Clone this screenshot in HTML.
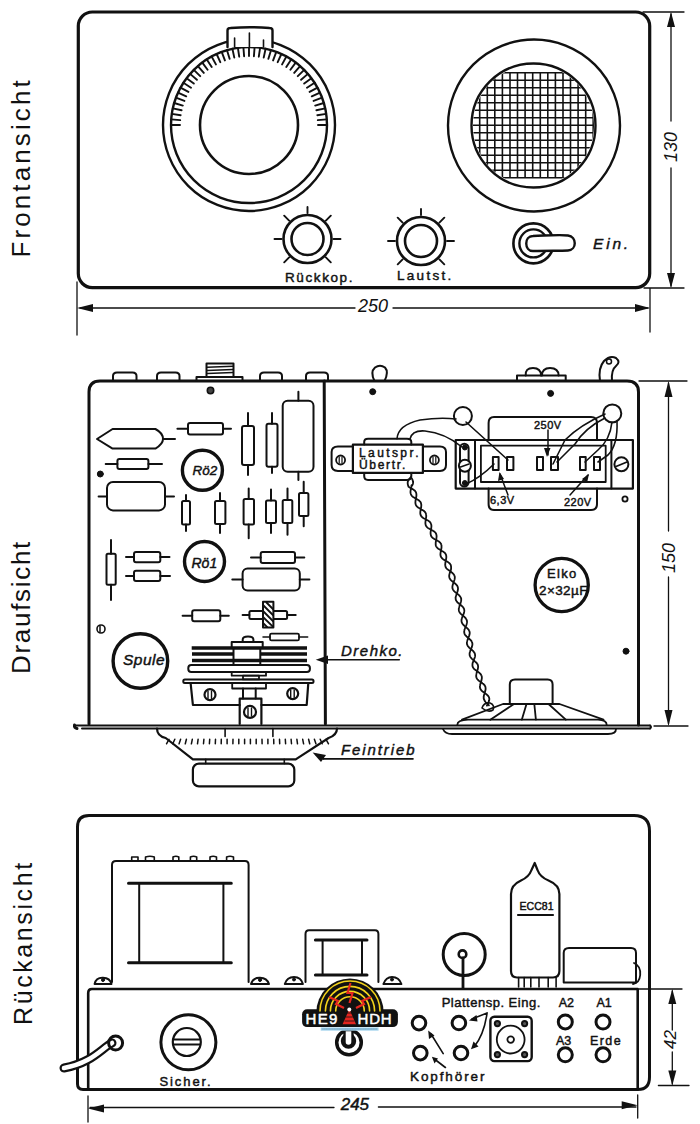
<!DOCTYPE html>
<html><head><meta charset="utf-8">
<style>
html,body{margin:0;padding:0;background:#fff;width:700px;height:1124px;overflow:hidden}
svg{display:block}
text{font-family:"Liberation Sans",sans-serif;fill:#111;stroke:none}
.h{stroke:#111;stroke-width:0.45px}
.h2{stroke:#111;stroke-width:0.7px}
</style></head>
<body>
<svg width="700" height="1124" viewBox="0 0 700 1124">
<defs>
<clipPath id="grill"><circle cx="533.5" cy="125.5" r="60.5"/></clipPath>
</defs>
<g fill="none" stroke="#111" stroke-linecap="round" stroke-linejoin="round">
<!-- ============ FRONT VIEW ============ -->
<rect x="78.3" y="12" width="571.4" height="275.6" rx="14" stroke-width="3.2"/>
<circle cx="249" cy="125" r="86" stroke-width="2.4"/>
<circle cx="249" cy="125" r="78" stroke-width="2.4"/>
<circle cx="249" cy="125" r="49" stroke-width="2.6"/>
<path d="M171,125L180,125M171.2,119.4L180.2,120.1M171.8,113.9L180.7,115.2M172.8,108.4L181.6,110.3M174.2,103L182.8,105.6M175.9,97.7L184.4,100.9M178,92.6L186.2,96.3M180.5,87.6L188.4,91.9M183.4,82.8L191,87.7M186.6,78.3L193.8,83.6M190.1,73.9L196.9,79.8M193.8,69.8L200.2,76.2M197.9,66.1L203.8,72.9M202.3,62.6L207.6,69.8M206.8,59.4L211.7,67M211.6,56.5L215.9,64.4M216.6,54L220.3,62.2M221.7,51.9L224.9,60.4M227,50.2L229.6,58.8M232.4,48.8L234.3,57.6M237.9,47.8L239.2,56.7M243.4,47.2L244.1,56.2M249,47L249,56M254.6,47.2L253.9,56.2M260.1,47.8L258.8,56.7M265.6,48.8L263.7,57.6M271,50.2L268.4,58.8M276.3,51.9L273.1,60.4M281.4,54L277.7,62.2M286.4,56.5L282.1,64.4M291.2,59.4L286.3,67M295.7,62.6L290.4,69.8M300.1,66.1L294.2,72.9M304.2,69.8L297.8,76.2M307.9,73.9L301.1,79.8M311.4,78.3L304.2,83.6M314.6,82.8L307,87.7M317.5,87.6L309.6,91.9M320,92.6L311.8,96.3M322.1,97.7L313.6,100.9M323.8,103L315.2,105.6M325.2,108.4L316.4,110.3M326.2,113.9L317.3,115.2M326.8,119.4L317.8,120.1M327,125L318,125" stroke-width="1.9"/>
<path d="M227.5,47 L227.5,30.5 Q227.5,28 230.5,28 Q250,26.5 269.5,28 Q272.5,28 272.5,30.5 L272.5,47" fill="#fff" stroke-width="2.4"/>
<path d="M234.6,47 V38 M249.4,47 V33 M263.5,47 V40" stroke-width="1.6"/>
<circle cx="534" cy="125.5" r="86" stroke-width="2.4"/>
<path clip-path="url(#grill)" d="M472.1,72.8V177.8M479.7,72.8V177.8M487.3,72.8V177.8M494.8,72.8V177.8M502.4,72.8V177.8M510,72.8V177.8M517.5,72.8V177.8M525.1,72.8V177.8M532.7,72.8V177.8M540.3,72.8V177.8M547.8,72.8V177.8M555.4,72.8V177.8M563,72.8V177.8M570.5,72.8V177.8M578.1,72.8V177.8M585.7,72.8V177.8M593.2,72.8V177.8M600.8,72.8V177.8M465,72.8H602M465,80.3H602M465,87.8H602M465,95.3H602M465,102.8H602M465,110.3H602M465,117.8H602M465,125.3H602M465,132.8H602M465,140.3H602M465,147.8H602M465,155.3H602M465,162.8H602M465,170.3H602M465,177.8H602" stroke-width="1.6" stroke-linecap="butt"/>
<circle cx="533.5" cy="125.5" r="62" stroke-width="2.4"/>
<g transform="translate(307.5,239)">
<circle r="24" stroke-width="2.6"/><circle r="16" stroke-width="2.6"/>
<path d="M-26,0H-33 M26,0H33 M0,-26V-32 M-18.4,-18.4L-23.3,-23.3 M18.4,-18.4L23.3,-23.3 M-18.4,18.4L-23.3,23.3 M18.4,18.4L23.3,23.3" stroke-width="1.9"/>
</g>
<g transform="translate(421,241)">
<circle r="24" stroke-width="2.6"/><circle r="16" stroke-width="2.6"/>
<path d="M-26,0H-33 M26,0H33 M0,-26V-32 M-18.4,-18.4L-23.3,-23.3 M18.4,-18.4L23.3,-23.3 M-18.4,18.4L-23.3,23.3 M18.4,18.4L23.3,23.3" stroke-width="1.9"/>
</g>
<circle cx="533.4" cy="243.4" r="20" stroke-width="2.6"/>
<circle cx="533.4" cy="243.4" r="14" stroke-width="2.4"/>
<path d="M533,236 C548,235.5 560,234.5 568,235.5 C577,236.5 577,250 568,250.5 C560,251 548,250.5 533,251 C524,251 524,236 533,236Z" fill="#fff" stroke-width="2.4"/>
<path d="M77,282V335 M650,288V332 M644,288H684 M643,12H684" stroke-width="1.3"/>
<path d="M80,308H355 M393,308H648" stroke-width="1.3"/>
<path d="M671,14V121 M671,168V286" stroke-width="1.3"/>
<g fill="#111" stroke="none">
<path d="M77,308 L93,304 L93,312Z"/>
<path d="M650,308 L635,304 L635,312Z"/>
<path d="M671,12 L667,27 L675,27Z"/>
<path d="M671,288 L667,273 L675,273Z"/>
</g>
<text transform="translate(30,257.5) rotate(-90)" font-size="26" letter-spacing="3.1">Frontansicht</text>
<text class="h" x="285" y="282" font-size="13.5" letter-spacing="1.6">Rückkop.</text>
<text class="h" x="397" y="280" font-size="13.5" letter-spacing="2.3">Lautst.</text>
<text class="h" x="593" y="249" font-size="15.5" font-style="italic" letter-spacing="2.8">Ein.</text>
<text x="358" y="311.5" font-size="18" font-style="italic">250</text>
<text transform="translate(677,162) rotate(-90)" font-size="18" font-style="italic">130</text>
<!-- ============ TOP VIEW ============ -->
<path d="M89,724 V392 Q89,381 100,381 H627 Q638.5,381 638.5,392 V725" stroke-width="3"/>
<path d="M324.2,381L325.4,724" stroke-width="3"/>
<path d="M76,725.5 H650 M82,728.5H650" stroke-width="2"/>
<path d="M74.5,725 Q74,728 77,728.5" stroke-width="3"/>
<!-- top tabs -->
<path d="M113,381 V376 Q113,372.5 117,372.5 H132.5 Q136.5,372.5 136.5,376 V381 M157,381 V376 Q157,372.5 161,372.5 H175.5 Q179.5,372.5 179.5,376 V381 M260,381 V376 Q260,372.5 264,372.5 H278 Q282,372.5 282,376 V381 M306,381 V376 Q306,372.5 310,372.5 H324 Q328,372.5 328,376 V381" stroke-width="2"/>
<path d="M196.5,381 V377 H242.5 V381" stroke-width="2"/>
<path d="M206.5,377 V363.5 H233.5 V377" stroke-width="2"/>
<path d="M207,367.2L233,366.2 M207,370.4L233,369.4 M207,373.6L233,372.6" stroke-width="1.5"/>
<circle cx="210.5" cy="390.5" r="3.2" fill="#444" stroke-width="1.6"/>
<circle cx="100.3" cy="474" r="3" fill="#111" stroke-width="1"/>
<circle cx="101" cy="629" r="4" stroke-width="1.6"/><path d="M100,626V632" stroke-width="1.5"/>
<!-- components left -->
<path d="M97,439 L112.6,429 H155.4 Q163,433 163,439 Q163,444 155.4,448.6 H112.6 Z M163,439H175" stroke-width="2"/>
<rect x="117.4" y="459" width="31" height="10" rx="2" stroke-width="2"/><path d="M105.7,464H117.4 M148.4,464H162" stroke-width="2"/>
<rect x="188" y="423" width="35" height="11.5" rx="2" stroke-width="2"/><path d="M177.4,428.8H188 M223,428.8H231" stroke-width="2"/>
<rect x="242" y="426" width="12" height="39" rx="2" stroke-width="2"/><path d="M248,413V426 M248,465V475" stroke-width="2"/>
<rect x="266.5" y="423.7" width="11" height="43" rx="2" stroke-width="2"/><path d="M272,413V423.7 M272,466.7V473" stroke-width="2"/>
<rect x="282.7" y="400.7" width="30.8" height="71" rx="5" stroke-width="2"/><path d="M298.4,391.8V400.7 M298.4,471.7V480" stroke-width="2"/>
<circle cx="202.4" cy="470.3" r="20" stroke-width="3.4"/>
<rect x="107" y="482" width="58" height="28.4" rx="6" stroke-width="2"/><path d="M98.6,496.5H107 M165,496.5H174" stroke-width="2"/>
<rect x="182" y="501" width="8" height="23.6" rx="1.5" stroke-width="2"/><path d="M186,495V501 M186,524.6V531" stroke-width="2"/>
<rect x="215" y="501" width="10.4" height="23" rx="1.5" stroke-width="2"/><path d="M220,493V501 M220,524V533" stroke-width="2"/>
<rect x="243.6" y="499" width="10.4" height="25.6" rx="1.5" stroke-width="2"/><path d="M248.7,488.6V499 M248.7,524.6V538.3" stroke-width="2"/>
<rect x="266" y="500.6" width="10" height="22.4" rx="1.5" stroke-width="2"/><path d="M271,489.6V500.6 M271,523V533" stroke-width="2"/>
<rect x="282.7" y="500" width="9.6" height="23" rx="1.5" stroke-width="2"/><path d="M287.5,488.6V500 M287.5,523V534.8" stroke-width="2"/>
<rect x="299" y="493" width="9.4" height="23" rx="1.5" stroke-width="2"/><path d="M303.7,481.7V493 M303.7,516V526.3" stroke-width="2"/>
<rect x="106.5" y="553.7" width="9.2" height="31" rx="1.5" stroke-width="2"/><path d="M111,540V553.7 M111,584.7V600" stroke-width="2"/>
<rect x="134" y="552" width="26.3" height="10.3" rx="2" stroke-width="2"/><path d="M126,557H134 M160.3,557H169.5" stroke-width="2"/>
<rect x="134" y="570.8" width="26.3" height="10.2" rx="2" stroke-width="2"/><path d="M126,576H134 M160.3,576H170" stroke-width="2"/>
<circle cx="204.5" cy="561.5" r="20" stroke-width="3.4"/>
<rect x="260.7" y="552" width="34.3" height="11" rx="2" stroke-width="2"/><path d="M251,557.5H260.7 M295,557.5H304.3" stroke-width="2"/>
<rect x="242.6" y="568.4" width="57.2" height="22" rx="5" stroke-width="2"/><path d="M232.3,579.4H242.6 M299.8,579.4H309.4" stroke-width="2"/>
<rect x="192.2" y="610.3" width="28.1" height="10.9" rx="2" stroke-width="2"/><path d="M182.6,615.8H192.2 M220.3,615.8H228.8" stroke-width="2"/>
<rect x="249.4" y="611" width="37.7" height="8" rx="1.5" stroke-width="2"/><path d="M242.6,615H249.4 M287.1,615H295.7" stroke-width="2"/>
<rect x="263" y="601.7" width="10.4" height="25.7" fill="#fff" stroke-width="2"/>
<path d="M266,602L273.4,609.5 M263,605L273.4,615.5 M263,611L273.4,621.5 M263,617L273.4,627.2 M263,623L267.5,627.4" stroke-width="1.8" stroke-linecap="butt"/>
<rect x="270" y="633.6" width="29" height="6.8" rx="1.5" stroke-width="1.8"/><path d="M263,637H270 M299,637H307.7" stroke-width="1.5"/>
<circle cx="140.4" cy="661" r="27.3" stroke-width="3.4"/>
<!-- Drehko -->
<path d="M242.7,642 V639.5 Q242.7,636.4 248,636.4 Q253.4,636.4 253.4,639.5 V642" stroke-width="2"/>
<rect x="231.7" y="642" width="31" height="6" stroke-width="2"/>
<path d="M191.7,648H307 M192,654H233.5 M260.3,654H307 M192,660.4H307" stroke-width="3.5" stroke-linecap="butt"/>
<path d="M233.5,648V665 M260.3,648V665" stroke-width="2"/>
<rect x="188.3" y="665" width="121.6" height="7" rx="3" stroke-width="2"/>
<rect x="231.7" y="672" width="34.3" height="3.7" stroke-width="1.8"/>
<rect x="243" y="675.7" width="16" height="3.7" stroke-width="1.8"/>
<rect x="183.3" y="679.4" width="130.2" height="3.6" rx="1.5" stroke-width="2"/>
<path d="M190.6,683 L192.9,705 H239.7 M261.4,705 H306.7 L308.3,683" stroke-width="2.2"/>
<rect x="232.2" y="683" width="33.8" height="5.5" stroke-width="1.8"/>
<path d="M243,688.5V698.6 M255.7,688.5V698.6" stroke-width="2"/>
<path d="M239.7,724 V698.6 H261.4 V724" stroke-width="2.2"/>
<circle cx="210" cy="694.7" r="5.5" stroke-width="2.2"/><path d="M208,691V698.5 M211.5,691V698.5" stroke-width="1.4"/>
<circle cx="292.7" cy="693.6" r="5.5" stroke-width="2.2"/><path d="M290.7,690V697.5 M294.2,690V697.5" stroke-width="1.4"/>
<circle cx="250" cy="711.9" r="6" stroke-width="2.2"/><path d="M248,708V716 M251.5,708V716" stroke-width="1.4"/>
<!-- Feintrieb dial -->
<path d="M157,728.5 Q157,736 165.7,738 L192.9,759.3 H295.7 L328.6,738 Q337,735 337,728.5" stroke-width="2.2"/>
<path d="M225.1,728.5V736.4 M272.9,728.5V736.4" stroke-width="1.6"/>
<path d="M205.7,759.3V763.6 M284.3,759.3V763.6" stroke-width="1.6"/>
<rect x="192.9" y="763.6" width="101.4" height="22.8" rx="6" stroke-width="2.2"/>
<path d="M169,739.3L166.5,743.8M174.8,739.3L172.8,743.8M180.6,739.3L179.1,743.8M186.4,739.3L185.3,743.8M192.3,739.3L191.4,743.8M198.1,739.3L197.5,743.8M203.9,739.3L203.5,743.8M209.7,739.3L209.4,743.8M215.5,739.3L215.3,743.8M221.3,739.3L221.2,743.8M227.1,739.3L227.1,743.8M233,739.3L232.9,743.8M238.8,739.3L238.8,743.8M244.6,739.3L244.6,743.8M250.4,739.3L250.4,743.8M256.2,739.3L256.2,743.8M262,739.3L262.1,743.8M267.9,739.3L267.9,743.8M273.7,739.3L273.8,743.8M279.5,739.3L279.7,743.8M285.3,739.3L285.6,743.8M291.1,739.3L291.5,743.8M296.9,739.3L297.5,743.8M302.7,739.3L303.6,743.8M308.6,739.3L309.7,743.8M314.4,739.3L315.9,743.8M320.2,739.3L322.2,743.8M326,739.3L328.5,743.8" stroke-width="1.5"/>
<!-- labels arrows -->
<path d="M327,659.8H399.3 M323.4,758.9H413" stroke-width="1.6"/>
<g fill="#111" stroke="none">
<path d="M315.7,659.8 L328,655.5 L328,664Z"/>
<path d="M312.6,752.4 L326,755 L321,762Z"/>
</g>
<path d="M323.4,758.9 Q318,756 316,754.5" stroke-width="1.6"/>
<!-- right side -->
<path d="M374.5,381 Q370,372 375,367.5 Q380,364 385,367.5 Q389,372 384.5,381" stroke-width="2"/>
<path d="M517,380 V375.5 H565.7 V380" stroke-width="2"/>
<path d="M525.7,375.5 Q525,368 533,368 Q541,368 541,375.5 M542,375.5 Q542,368 550,368 Q558.6,368 558.6,375.5" stroke-width="2"/>
<path d="M600,381 Q598,368 604,361 Q610,355 616,358 Q621,362 616,366 Q611,370 612,381" stroke-width="2"/>
<circle cx="609" cy="361.5" r="2.5" stroke-width="1.5"/>
<circle cx="372.7" cy="391.7" r="3" fill="#111" stroke-width="1"/>
<circle cx="550.6" cy="393.4" r="3" fill="#111" stroke-width="1"/>
<circle cx="625" cy="499" r="2.6" stroke-width="1.8"/>
<circle cx="626" cy="651.2" r="3" fill="#111" stroke-width="1"/>
<!-- transformer -->
<path d="M364.2,444.6 V442 Q364.2,438.7 368,438.7 H407 Q411.3,438.7 411.3,442 V444.6 M364.2,472.9 V476 Q364.2,479.9 368,479.9 H407 Q411.3,479.9 411.3,476 V472.9" stroke-width="2"/>
<path d="M352.9,446.4 H338 Q331.6,446.4 331.6,452 V465 Q331.6,470.9 338,470.9 H352.9 M422.9,446.4 H440 Q446,446.4 446,452 V465 Q446,470.9 440,470.9 H422.9" stroke-width="2"/>
<rect x="352.9" y="444.6" width="70" height="28.3" stroke-width="2.2"/>
<circle cx="340.6" cy="460" r="4.5" stroke-width="1.8"/><path d="M339.2,457V463 M342,457V463" stroke-width="1.2"/>
<circle cx="434.4" cy="460" r="4.5" stroke-width="1.8"/><path d="M433,457V463 M435.8,457V463" stroke-width="1.2"/>
<!-- sockets -->
<circle cx="462.9" cy="416" r="9" stroke-width="2"/>
<circle cx="612.3" cy="413.4" r="9" stroke-width="2"/>
<!-- strip -->
<path d="M488.6,440 V423 Q488.6,417 494,417 H591 Q597,417 597,423 V440 M488.6,488.6 V504 Q488.6,510 494,510 H591 Q597,510 597,504 V488.6" stroke-width="2"/>
<rect x="455.7" y="440" width="177.2" height="48.6" stroke-width="2.2"/>
<path d="M475,440V488.6 M611.4,440V488.6" stroke-width="2"/>
<rect x="480.9" y="445.7" width="124.8" height="36.3" stroke-width="1.8"/>
<path d="M492.9,457h5.7v13h-5.7z M507,457h6.4v13h-6.4z M537,457h6v13h-6z M551,457h7v13h-7z M580,457h5.7v13h-5.7z M594,457h6v13h-6z" stroke-width="2"/>
<rect x="460" y="443.7" width="8.6" height="42.9" rx="4.3" stroke-width="2"/>
<circle cx="464.9" cy="447.5" r="2.5" fill="#111" stroke-width="1"/>
<circle cx="464.9" cy="483" r="2.5" fill="#111" stroke-width="1"/>
<circle cx="464.9" cy="465.7" r="6" fill="#fff" stroke-width="2"/><path d="M460.5,467L469,464" stroke-width="1.5"/>
<circle cx="621.4" cy="464.3" r="7" stroke-width="2"/><path d="M616,466.5L627,462" stroke-width="1.8"/>
<!-- wires -->
<path d="M397,438.7 Q398,425 420,420 Q440,417 456,419" stroke-width="1.6"/>
<path d="M410,439 Q412,430 425,431 Q445,433 462,447" stroke-width="1.6"/>
<path d="M466,422 L508,460" stroke-width="1.6"/>
<path d="M466,484 Q480,478 494,464" stroke-width="1.6"/>
<path d="M605,414 Q580,425 565,440 L553,464" stroke-width="1.6"/>
<path d="M605,418 Q585,428 575,444 L557,462" stroke-width="1.6"/>
<path d="M612,422 Q610,440 598,450 L585,462" stroke-width="1.6"/>
<path d="M617,421 Q618,445 608,455 L598,462" stroke-width="1.6"/>
<path d="M548,430V455" stroke-width="1.5"/>
<path d="M508,495L500,474" stroke-width="1.5"/>
<path d="M570,495L588,475" stroke-width="1.5"/>
<g fill="#111" stroke="none">
<path d="M547,457 L544,448 L550.5,448Z"/>
<path d="M499.5,472 L498,481 L504,479Z"/>
<path d="M589,474 L582,479 L587,483Z"/>
</g>
<!-- twisted wire -->
<path d="M411,477L410.6,477.5L410.2,477.9L409.8,478.4L409.4,478.8L409,479.3L408.7,479.8L408.4,480.3L408.2,480.7L408,481.2L407.8,481.7L407.7,482.2L407.7,482.7L407.7,483.2L407.7,483.7L407.8,484.2L407.9,484.8L408.1,485.3L408.5,486.7L409,487L409.5,487.4L410,487.7L410.6,488L411.1,488.3L411.7,488.6L412.2,488.9L412.8,489.2L413.3,489.5L413.7,489.8L414.2,490.2L414.6,490.5L415,490.9L415.3,491.3L415.6,491.7L415.9,492.2L416.1,492.6L416.2,493.1L416.3,493.6L416.4,494.2L416.4,494.7L416.4,495.3L416.4,495.9L416.3,496.5L416.2,497.1L416.1,497.7L416,498.3L415.9,498.9L415.7,499.5L415.6,500.1L415.5,500.7L415.5,501.3L415.4,501.9L415.4,502.5L415.4,503L415.5,503.5L415.6,504.1L415.7,504.5L415.9,505L416.2,505.5L416.4,505.9L416.8,506.3L417.2,506.7L417.6,507L418,507.4L418.5,507.7L419,508L419.5,508.3L420.1,508.7L420.6,509L421.2,509.3L421.7,509.6L422.3,509.9L422.8,510.2L423.3,510.5L423.7,510.8L424.2,511.2L424.6,511.6L424.9,512L425.3,512.4L425.5,512.8L425.7,513.2L425.9,513.7L426,514.1L426.1,514.7L426.2,515.2L426.2,515.8L426.2,516.3L426.2,516.9L426.1,517.5L426,518.1L425.9,518.7L425.8,519.3L425.7,520L425.6,520.6L425.5,521.2L425.5,521.8L425.4,522.4L425.4,523L425.4,523.5L425.5,524L425.6,524.6L425.7,525.1L425.9,525.5L426.1,526L426.4,526.4L426.7,526.8L427.1,527.2L427.5,527.6L427.9,527.9L428.4,528.2L428.9,528.5L429.4,528.8L430,529.1L430.5,529.4L431.1,529.7L431.6,530L432.2,530.3L432.7,530.6L433.2,530.9L433.7,531.2L434.2,531.5L434.6,531.9L435,532.2L435.4,532.6L435.7,533L435.9,533.5L436.1,533.9L436.3,534.4L436.4,534.9L436.5,535.4L436.6,536L436.6,536.5L436.5,537.1L436.5,537.7L436.4,538.3L436.3,538.9L436.2,539.5L436.1,540.2L436,540.8L435.9,541.4L435.8,542L435.7,542.6L435.7,543.1L435.7,543.7L435.7,544.3L435.7,544.8L435.8,545.3L436,545.8L436.1,546.3L436.4,546.7L436.7,547.1L437,547.6L437.4,547.9L437.8,548.3L438.2,548.7L438.7,549L439.2,549.3L439.7,549.6L440.3,550L440.8,550.3L441.4,550.6L441.9,550.9L442.4,551.2L443,551.5L443.5,551.8L443.9,552.2L444.4,552.5L444.8,552.9L445.1,553.3L445.4,553.7L445.7,554.1L445.9,554.6L446.1,555.1L446.2,555.6L446.3,556.1L446.3,556.6L446.3,557.2L446.3,557.8L446.2,558.4L446.1,559L446,559.6L445.9,560.2L445.8,560.8L445.7,561.4L445.5,562L445.4,562.6L445.3,563.2L445.3,563.8L445.2,564.4L445.2,564.9L445.3,565.5L445.4,566L445.5,566.5L445.6,567L445.9,567.4L446.1,567.9L446.4,568.3L446.8,568.7L447.2,569.1L447.6,569.4L448.1,569.8L448.6,570.1L449,570.3L449.5,570.7L450,571L450.5,571.4L451,571.8L451.5,572.2L452,572.6L452.4,573L452.8,573.4L453.2,573.8L453.6,574.2L453.9,574.6L454.2,575.1L454.4,575.6L454.6,576L454.7,576.5L454.8,577L454.8,577.5L454.8,578.1L454.7,578.6L454.6,579.2L454.5,579.7L454.3,580.3L454.1,580.9L453.9,581.5L453.7,582.1L453.5,582.6L453.3,583.2L453.1,583.8L452.9,584.4L452.7,585L452.6,585.5L452.5,586.1L452.4,586.6L452.4,587.2L452.4,587.7L452.5,588.2L452.6,588.7L452.8,589.2L453,589.6L453.3,590.1L453.6,590.5L453.9,590.9L454.3,591.3L454.7,591.7L455.2,592.1L455.7,592.5L456.2,592.9L456.6,593.3L457.1,593.7L457.6,594.1L458.1,594.4L458.6,594.8L459,595.2L459.4,595.6L459.8,596.1L460.2,596.5L460.4,596.9L460.7,597.4L460.9,597.8L461.1,598.3L461.2,598.8L461.2,599.3L461.2,599.9L461.2,600.4L461.1,600.9L461,601.5L460.8,602.1L460.7,602.6L460.5,603.2L460.3,603.8L460.1,604.4L459.8,605L459.6,605.6L459.4,606.2L459.3,606.7L459.1,607.3L459,607.9L458.9,608.3L458.8,608.8L458.8,609.4L458.8,609.9L458.9,610.4L459,610.9L459.1,611.3L459.3,611.8L459.6,612.3L459.9,612.7L460.2,613.1L460.6,613.6L461,614L461.5,614.4L461.9,614.8L462.4,615.2L462.9,615.6L463.3,616L463.8,616.4L464.3,616.8L464.7,617.2L465.1,617.6L465.5,618L465.8,618.5L466.1,618.9L466.4,619.4L466.6,619.8L466.8,620.3L466.9,620.8L467,621.3L467,621.8L467,622.3L466.9,622.9L466.8,623.4L466.7,624L466.5,624.5L466.3,625.1L466.1,625.6L465.8,626.2L465.6,626.8L465.3,627.4L465.1,627.9L464.9,628.5L464.7,629.1L464.5,629.6L464.4,630.2L464.3,630.7L464.2,631.2L464.2,631.8L464.2,632.3L464.3,632.8L464.4,633.3L464.5,633.7L464.8,634.2L465,634.7L465.3,635.1L465.7,635.5L466.1,635.9L466.5,636.4L466.9,636.8L467.4,637.2L467.8,637.6L468.3,638L468.8,638.4L469.2,638.8L469.7,639.2L470.1,639.6L470.5,640L470.9,640.4L471.3,640.9L471.6,641.3L471.8,641.8L472,642.2L472.2,642.7L472.3,643.2L472.4,643.7L472.4,644.2L472.4,644.7L472.3,645.3L472.2,645.8L472,646.4L471.9,646.9L471.7,647.5L471.4,648L471.2,648.6L471,649.2L470.7,649.8L470.5,650.3L470.3,650.9L470.1,651.5L469.9,652L469.8,652.6L469.6,653.1L469.6,653.6L469.6,654.2L469.6,654.7L469.7,655.2L469.8,655.7L470,656.1L470.2,656.6L470.4,657L470.8,657.5L471.1,657.9L471.5,658.3L471.9,658.8L472.3,659.2L472.8,659.6L473.3,660L473.7,660.4L474.2,660.8L474.7,661.2L475.1,661.6L475.6,662L476,662.4L476.3,662.6L476.7,663L477,663.5L477.3,663.9L477.6,664.3L477.8,664.8L477.9,665.3L478,665.8L478.1,666.3L478.1,666.8L478.1,667.4L478,667.9L477.9,668.5L477.8,669.1L477.6,669.6L477.5,670.2L477.3,670.8L477.1,671.4L476.9,672L476.7,672.6L476.6,673.2L476.4,673.8L476.3,674.4L476.2,674.9L476.2,675.5L476.2,676L476.2,676.5L476.3,677L476.4,677.5L476.6,678L476.8,678.4L477.1,678.9L477.4,679.3L477.8,679.7L478.2,680.1L478.6,680.5L479.1,680.9L479.6,681.2L480.1,681.6L480.6,681.9L481.1,682.3L481.6,682.6L482.1,683L482.6,683.4L483.1,683.7L483.5,684.1L483.9,684.5L484.3,684.9L484.6,685.3L484.9,685.8L485.1,686.2L485.3,686.7L485.5,687.2L485.5,687.7L485.6,688.2L485.6,688.7L485.6,689.3L485.5,689.8L485.4,690.4L485.2,691L485.1,691.6L484.9,692.2L484.7,692.8L484.5,693.4L484.4,694L484.2,694.5L484,695.1L483.9,695.7L483.8,696.3L483.7,696.8L483.7,697.4L483.7,697.9L483.7,698.4L483.8,698.9L484,699.4L484.1,699.5L484.3,700L484.5,700.4L484.7,700.9L485.1,701.4L485.4,701.8L485.8,702.3L486.2,702.7L486.7,703.1L487.1,703.6L487.6,704L488,704.4L488.5,704.9L488.9,705.3M411,477L411.3,477.5L411.6,478.1L411.9,478.6L412.2,479.2L412.4,479.7L412.6,480.2L412.8,480.7L412.9,481.3L413,481.8L413.1,482.3L413.1,482.8L413,483.3L412.9,483.8L412.7,484.3L412.5,484.8L412.3,485.2L412,485.7L411.5,485.3L411.4,485.9L411.4,486.5L411.3,487.1L411.1,487.7L411,488.3L410.9,488.9L410.8,489.5L410.7,490.1L410.6,490.7L410.5,491.3L410.5,491.9L410.5,492.5L410.6,493L410.7,493.5L410.8,494L411,494.5L411.2,494.9L411.5,495.4L411.8,495.8L412.2,496.2L412.6,496.5L413,496.9L413.5,497.2L414,497.5L414.5,497.8L415.1,498.2L415.6,498.5L416.2,498.8L416.7,499.1L417.2,499.4L417.8,499.7L418.3,500L418.7,500.3L419.2,500.7L419.6,501.1L420,501.4L420.3,501.8L420.6,502.3L420.8,502.7L421,503.2L421.1,503.7L421.2,504.2L421.3,504.7L421.3,505.3L421.3,505.8L421.2,506.4L421.2,507L421.1,507.6L420.9,508.2L420.8,508.9L420.7,509.5L420.6,510.1L420.5,510.7L420.4,511.3L420.3,511.9L420.3,512.5L420.3,513L420.3,513.6L420.4,514.1L420.5,514.6L420.7,515.1L420.9,515.6L421.2,516L421.5,516.5L421.8,516.8L422.2,517.2L422.6,517.6L423.1,517.9L423.6,518.2L424.1,518.5L424.7,518.8L425.2,519.1L425.8,519.4L426.3,519.7L426.9,519.9L427.4,520.2L428,520.5L428.5,520.8L428.9,521.2L429.4,521.5L429.8,521.9L430.1,522.3L430.4,522.7L430.7,523.1L430.9,523.6L431.1,524L431.2,524.5L431.3,525L431.4,525.6L431.4,526.1L431.4,526.7L431.3,527.3L431.3,527.9L431.2,528.5L431.1,529.1L431,529.8L430.9,530.4L430.8,531L430.7,531.6L430.6,532.2L430.6,532.8L430.6,533.3L430.6,533.9L430.7,534.4L430.8,534.9L430.9,535.4L431.1,535.9L431.3,536.3L431.6,536.8L432,537.2L432.3,537.5L432.7,537.9L433.2,538.2L433.7,538.6L434.2,538.9L434.7,539.2L435.3,539.5L435.8,539.8L436.4,540L436.9,540.3L437.5,540.6L438,541L438.5,541.3L439,541.6L439.4,542L439.8,542.3L440.2,542.7L440.5,543.1L440.8,543.6L441.1,544L441.2,544.5L441.4,545L441.5,545.5L441.5,546L441.5,546.6L441.5,547.1L441.5,547.7L441.4,548.3L441.3,548.9L441.2,549.5L441,550.2L440.9,550.8L440.8,551.4L440.7,552L440.6,552.6L440.5,553.2L440.5,553.8L440.4,554.3L440.5,554.9L440.5,555.4L440.6,555.9L440.8,556.4L441,556.9L441.3,557.3L441.5,557.7L441.9,558.1L442.3,558.5L442.7,558.9L443.1,559.2L443.6,559.6L444.1,559.9L444.7,560.2L445.2,560.5L445.8,560.8L446.3,561.1L446.9,561.4L447.4,561.7L447.9,562L448.4,562.4L448.8,562.7L449.3,563.1L449.7,563.5L450,563.9L450.3,564.3L450.6,564.7L450.8,565.2L450.9,565.7L451,566.2L451.1,566.7L451.1,567.3L451.1,567.8L451.1,568.4L451,569L451,569.7L450.8,570.3L450.6,570.9L450.3,571.5L450.1,572.1L449.9,572.7L449.7,573.2L449.6,573.8L449.4,574.4L449.3,574.9L449.2,575.5L449.2,576L449.2,576.5L449.3,577L449.4,577.5L449.5,578L449.7,578.5L450,578.9L450.3,579.4L450.6,579.8L451,580.2L451.4,580.6L451.9,581L452.4,581.4L452.8,581.8L453.3,582.2L453.8,582.6L454.3,582.9L454.8,583.3L455.3,583.7L455.7,584.1L456.1,584.5L456.5,584.9L456.9,585.3L457.2,585.8L457.4,586.2L457.6,586.7L457.8,587.2L457.9,587.7L458,588.2L458,588.7L458,589.2L457.9,589.8L457.8,590.3L457.7,590.9L457.5,591.5L457.3,592.1L457.1,592.6L456.9,593.2L456.7,593.8L456.5,594.4L456.3,595L456.1,595.6L455.9,596.1L455.8,596.7L455.7,597.3L455.6,597.8L455.6,598.3L455.7,598.8L455.7,599.3L455.9,599.8L456,600.3L456.3,600.8L456.6,601.2L456.9,601.6L457.2,602.1L457.6,602.5L458.1,602.9L458.5,603.3L459,603.7L459.5,604L460,604.4L460.5,604.8L461,605.2L461.4,605.6L461.9,606L462.3,606.4L462.7,606.8L463.1,607.3L463.4,607.7L463.7,608.2L463.9,608.6L464.1,609.1L464.2,609.6L464.3,610.1L464.3,610.6L464.3,611.1L464.2,611.7L464.1,612.2L464,612.8L463.8,613.3L463.6,613.9L463.4,614.4L463.1,615L462.9,615.6L462.7,616.2L462.4,616.7L462.2,617.3L462,617.9L461.8,618.4L461.7,619L461.6,619.5L461.5,620L461.5,620.6L461.5,621.1L461.6,621.6L461.7,622.1L461.8,622.5L462.1,623L462.3,623.5L462.6,623.9L463,624.3L463.3,624.8L463.8,625.2L464.2,625.6L464.6,626L465.1,626.4L465.6,626.8L466.1,627.2L466.5,627.6L467,628L467.4,628.4L467.8,628.8L468.2,629.2L468.6,629.7L468.9,630.1L469.1,630.6L469.3,631L469.5,631.5L469.6,632L469.7,632.5L469.7,633L469.7,633.5L469.6,634.1L469.5,634.6L469.3,635.2L469.2,635.7L469,636.3L468.7,636.8L468.5,637.4L468.3,638L468,638.6L467.8,639.1L467.6,639.7L467.4,640.3L467.2,640.8L467.1,641.4L467,641.9L466.9,642.4L466.9,643L466.9,643.5L467,644L467.1,644.5L467.3,644.9L467.5,645.4L467.7,645.8L468,646.3L468.4,646.7L468.8,647.1L469.2,647.6L469.6,648L470.1,648.4L470.5,648.8L471,649.2L471.5,649.6L472,650L472.4,650.4L472.9,650.8L473.3,651.2L473.6,651.6L474,652.1L474.3,652.5L474.5,653L474.7,653.4L474.9,653.9L475,654.4L475.1,654.9L475.1,655.4L475.1,655.9L475,656.5L474.9,657L474.7,657.6L474.6,658.1L474.3,658.7L474.1,659.2L473.9,659.8L473.7,660.4L473.4,661L473.2,661.5L473,662.1L472.8,662.7L472.6,663.2L472.5,664L472.5,664.5L472.4,665L472.5,665.6L472.5,666.1L472.7,666.6L472.8,667L473.1,667.5L473.3,667.9L473.6,668.4L474,668.8L474.4,669.2L474.8,669.5L475.3,669.9L475.8,670.3L476.3,670.6L476.8,671L477.3,671.4L477.8,671.7L478.3,672.1L478.8,672.4L479.3,672.8L479.7,673.2L480.1,673.6L480.5,674L480.8,674.4L481.1,674.8L481.3,675.3L481.5,675.7L481.7,676.2L481.8,676.7L481.8,677.2L481.9,677.8L481.8,678.3L481.8,678.9L481.6,679.4L481.5,680L481.4,680.6L481.2,681.2L481,681.8L480.8,682.4L480.6,683L480.5,683.6L480.3,684.2L480.2,684.7L480.1,685.3L480,685.9L479.9,686.4L479.9,687L480,687.5L480.1,688L480.2,688.5L480.4,688.9L480.6,689.4L480.9,689.8L481.2,690.2L481.6,690.6L482,691L482.5,691.4L482.9,691.8L483.4,692.1L483.9,692.5L484.4,692.9L484.9,693.2L485.4,693.6L485.9,693.9L486.4,694.3L486.9,694.7L487.3,695.1L487.7,695.5L488.1,695.9L488.4,696.3L488.7,696.7L488.9,697.2L489.1,697.6L489.3,698.5L489.3,699L489.3,699.6L489.2,700.1L489.1,700.6L488.9,701.2L488.7,701.7L488.5,702.3L488.2,702.9L488,703.4L487.7,704L487.4,704.6L487.1,705.1L486.9,705.7" stroke-width="1.8"/>
<!-- elko -->
<circle cx="561.7" cy="585" r="26.6" stroke-width="3.3"/>
<!-- speaker -->
<path d="M509.8,704 V684.5 Q509.8,679.5 515,679.5 H547.6 Q552.6,679.5 552.6,684.5 V704" stroke-width="2"/>
<path d="M462,719.7 L503,704 H559.5 L603.5,719.7 M514,704 L490.3,719.7 M526.5,704 L521.8,719.7 M534.3,704 L535.9,719.7 M548.5,704 L565.8,719.7" stroke-width="1.8"/>
<path d="M457.3,725 Q457.3,720 468,719.7 H598 Q606.7,720 606.7,725" stroke-width="1.8"/>
<path d="M443,729 Q445,734 452,734 H608 Q616,734 616,729" stroke-width="1.8"/>
<path d="M482,708 Q484,702 490,703 Q495,705 493,710 Q488,713 482,708Z" stroke-width="1.6"/>
<path d="M650,725.5 Q652,727 650,728.5" stroke-width="2"/>
<!-- dims -->
<path d="M639,381H687 M654,726H688" stroke-width="1.3"/>
<path d="M668.5,383V531 M668.5,577V724" stroke-width="1.3"/>
<g fill="#111" stroke="none">
<path d="M668.5,381 L664.5,397 L672.5,397Z"/>
<path d="M668.5,726 L664.5,710 L672.5,710Z"/>
</g>
<text transform="translate(675,573) rotate(-90)" font-size="18" font-style="italic">150</text>
<text transform="translate(30,674) rotate(-90)" font-size="26" letter-spacing="1.7">Draufsicht</text>
<text class="h" x="192.5" y="474.5" font-size="13.5" font-style="italic">Rö2</text>
<text class="h" x="191.5" y="568" font-size="14" font-style="italic">Rö1</text>
<text class="h" x="123" y="665" font-size="15.5" font-style="italic" letter-spacing="0.5">Spule</text>
<text class="h" x="341" y="656" font-size="15" font-style="italic" letter-spacing="1.5">Drehko.</text>
<text class="h" x="341" y="755" font-size="15" font-style="italic" letter-spacing="1.9">Feintrieb</text>
<text class="h" x="359" y="456.7" font-size="12" letter-spacing="2.4">Lautspr.</text>
<text class="h" x="359" y="469" font-size="12" letter-spacing="1.7">Übertr.</text>
<text class="h" x="534" y="428.6" font-size="11" letter-spacing="0.5">250V</text>
<text class="h" x="490" y="504.3" font-size="11" letter-spacing="0.5">6,3V</text>
<text class="h" x="564" y="505.7" font-size="11" letter-spacing="0.5">220V</text>
<text class="h" x="547" y="578" font-size="13" letter-spacing="1.3">Elko</text>
<text class="h" x="539" y="595" font-size="13.5" letter-spacing="0.4">2×32µF</text>
<!-- ============ REAR VIEW ============ -->
<path d="M77.5,1084 V827 Q77.5,815.5 89,815.5 H634 Q649.5,815.5 649.5,831 V1077 Q649.5,1089.5 638,1089.5 H83 Q77.5,1089.5 77.5,1084 Z" stroke-width="3"/>
<path d="M88.2,1088 V993 Q88.2,989 92,989 H637.7 V1089.5" stroke-width="2.6"/>
<!-- transformer 1 -->
<path d="M112,982 V865 Q112,861 116,861 H245 Q248.6,861 248.6,865 V982" stroke-width="2"/>
<path d="M131.7,861 V857 H138 V861 M145.5,861 V857 Q150,855.5 154.3,857 V861 M173,861 V857 Q176,855.5 178.8,857 V861 M190.4,861 V857 Q193.5,855.5 196.7,857 V861 M210,861 V857 Q213,855.5 216.5,857 V861 M226.6,861 V857 Q230,855.5 233.5,857 V861" stroke-width="1.6"/>
<path d="M128.5,883.3H231.3 M128.5,962.8H231.3" stroke-width="3"/>
<path d="M139.2,883.3V962.8 M223.4,883.3V962.8" stroke-width="2"/>
<path d="M94.6,984 Q96,977.5 103,977.8 Q110,978 111.5,984 Z M251,984 Q253,977.5 260,977.8 Q267,978 269,984 Z" stroke-width="2"/>
<circle cx="103" cy="980" r="1.5" fill="#111" stroke-width="1"/><circle cx="260" cy="980" r="1.5" fill="#111" stroke-width="1"/>

<!-- transformer 2 -->
<path d="M305.5,982 V934 Q305.5,930.2 309,930.2 H375 Q378.4,930.2 378.4,934 V982" stroke-width="2"/>
<path d="M315.4,940H367 M315.4,975H367" stroke-width="3"/>
<path d="M322.6,940V975 M362,940V975" stroke-width="2"/>
<path d="M284.8,984 Q287,977 294,977 Q301,977 302.9,984 Z M383.4,984 Q386,977 392,977 Q399,977 401.4,984 Z" stroke-width="2"/>
<circle cx="294" cy="979.5" r="1.5" fill="#111" stroke-width="1"/><circle cx="392" cy="979.5" r="1.5" fill="#111" stroke-width="1"/>
<!-- meter socket -->
<circle cx="464.2" cy="954.5" r="21" stroke-width="3"/>
<circle cx="462.5" cy="954.2" r="3.8" stroke-width="2.6"/>
<path d="M463,958V988" stroke-width="2.8"/>
<!-- tube -->
<path d="M511,971 V894 Q511,885 521,880.5 Q529,877 531.5,870 L534.7,863 L537.5,870 Q540,877 548.5,880.5 Q559.4,885 559.4,894 V971 Q559.4,977.5 553,977.5 H517 Q511,977.5 511,971Z" stroke-width="2.2"/>
<path d="M518.6,977.5V987 M524.2,977.5V987 M530.8,977.5V987 M539,977.5V987 M548.2,977.5V987 M556.1,977.5V987" stroke-width="1.6"/>
<path d="M518,915H553" stroke-width="2.2"/>
<!-- capacitor -->
<path d="M563.7,982.4 V953 Q563.7,947.9 569,947.9 H631 Q636,947.9 636,953 V982.4 Z" stroke-width="2"/>
<path d="M634,963 Q641,966 640.2,975 Q639.5,983 633,984" stroke-width="1.8"/>
<!-- cable & grommet -->
<path d="M112,1043 C102,1048 92,1063 64,1068" stroke-width="9"/>
<path d="M112,1043 C102,1048 92,1063 64,1068" stroke="#fff" stroke-width="4.6"/>
<circle cx="115.6" cy="1043" r="7" stroke-width="3"/>
<!-- fuse -->
<circle cx="188.4" cy="1042.3" r="27.5" stroke-width="3"/>
<circle cx="186.8" cy="1042" r="14" stroke-width="2.2"/>
<path d="M173.5,1039.5H200 M173.5,1044.5H200" stroke-width="2"/>
<!-- switch under logo -->
<circle cx="349" cy="1042.5" r="12.3" stroke-width="3.5"/>
<circle cx="348.5" cy="1041" r="6.2" stroke-width="3"/>
<path d="M344.5,1030 V1042 Q344.5,1046 348.5,1046 Q352.5,1046 352.5,1042 V1030 Z" fill="#fff" stroke-width="2.4"/>
<!-- sockets -->
<circle cx="419" cy="1023.1" r="6.8" stroke-width="3"/>
<circle cx="458.9" cy="1023" r="6.8" stroke-width="3"/>
<circle cx="420.3" cy="1053.1" r="6.8" stroke-width="3"/>
<circle cx="461" cy="1053" r="6.8" stroke-width="3"/>
<circle cx="565.3" cy="1021.9" r="7" stroke-width="3"/>
<circle cx="603" cy="1022" r="7" stroke-width="3"/>
<circle cx="565.3" cy="1054.8" r="7" stroke-width="3"/>
<circle cx="603" cy="1054.8" r="7" stroke-width="3"/>
<!-- arrows -->
<path d="M443.2,1053.6 L431,1034 M445.4,1067.5 L435,1059.5 M487.1,1012.9 L472,1019 M487.1,1012.9 Q484,1035 474,1047" stroke-width="1.6"/>
<g fill="#111" stroke="none">
<path d="M428.2,1030.4 L429,1039 L434.5,1035.5Z"/>
<path d="M431.9,1056.8 L434.5,1063.5 L438,1058.5Z"/>
<path d="M468.9,1020.4 L476.5,1015 L477.5,1021.5Z"/>
<path d="M471,1049.3 L473.5,1041.5 L478.5,1046.5Z"/>
</g>
<!-- square connector -->
<rect x="490.4" y="1016.7" width="41.3" height="44.4" rx="4" stroke-width="2.4"/>
<circle cx="510.7" cy="1039.6" r="13.9" stroke-width="1.8"/>
<circle cx="510.7" cy="1039.6" r="3.3" stroke-width="1.8"/>
<circle cx="497.4" cy="1023.6" r="2.6" fill="#555" stroke-width="2"/>
<circle cx="524.6" cy="1023.6" r="2.6" fill="#555" stroke-width="2"/>
<circle cx="497.4" cy="1054.6" r="2.6" fill="#555" stroke-width="2"/>
<circle cx="524.6" cy="1054.6" r="2.6" fill="#555" stroke-width="2"/>
<!-- dims -->
<path d="M88,1096V1122 M637.7,1095V1118 M639,989H682 M658.4,1085.5H689" stroke-width="1.3"/>
<path d="M90,1107.5H334 M378.4,1107H636" stroke-width="1.3"/>
<path d="M672.3,991V1030 M672.3,1052V1084" stroke-width="1.3"/>
<g fill="#111" stroke="none">
<path d="M88,1108.5 L104,1104.5 L104,1112.5Z"/>
<path d="M637.7,1105.3 L621.7,1101.3 L621.7,1109.3Z"/>
<path d="M672.3,989 L668.3,1004 L676.3,1004Z"/>
<path d="M672.3,1085.5 L668.3,1070.5 L676.3,1070.5Z"/>
</g>
<text transform="translate(32,1025) rotate(-90)" font-size="25" letter-spacing="2.6">Rückansicht</text>
<text class="h" x="340.7" y="1110.3" font-size="17" font-style="italic">245</text>
<text transform="translate(676,1049) rotate(-90)" font-size="17" font-style="italic">42</text>
<text class="h" x="519.5" y="910" font-size="10.5" letter-spacing="0.05">ECC81</text>
<text class="h" x="159.5" y="1086" font-size="13" letter-spacing="1.9">Sicher.</text>
<text class="h" x="441.7" y="1007" font-size="13" letter-spacing="0.5">Plattensp. Eing.</text>
<text class="h" x="410" y="1081.4" font-size="13.5" letter-spacing="1.9">Kopfhörer</text>
<text class="h" x="558.7" y="1007" font-size="12.5">A2</text>
<text class="h" x="596.5" y="1007" font-size="12.5">A1</text>
<text class="h" x="556" y="1045" font-size="12.5">A3</text>
<text class="h" x="590" y="1045" font-size="12.5" letter-spacing="1.4">Erde</text>
<!-- logo -->
<g stroke="none">
<path d="M316.4,1012 A33.6,33.6 0 0 1 383.6,1012 Z" fill="#111"/>
<rect x="302.1" y="1009.3" width="95.8" height="17.8" rx="5" fill="#111"/>
</g>
<g stroke="#f2d21b" stroke-width="1.6" fill="none">
<path d="M320,1011 A30,30 0 0 1 380,1011 M325.4,1011 A24.6,24.6 0 0 1 374.6,1011 M330.4,1011 A19.6,19.6 0 0 1 369.6,1011 M335.7,1011 A14.3,14.3 0 0 1 364.3,1011"/>
</g>
<g stroke="#e3261f" stroke-width="2.2" fill="none" stroke-linecap="butt" stroke-linejoin="miter">
<path d="M350.5,983 L347.5,993 L352.5,993 L349.5,1003"/>
<path d="M329,997 L338,1001 L336,1004 L344,1008"/>
<path d="M371,997 L362,1001 L364,1004 L356,1008"/>
</g>
<path d="M342.6,1024.3 L349.3,1009 L356,1024.3Z" fill="#e3261f" stroke="none"/>
<circle cx="349.3" cy="1009.5" r="2" fill="#fff" stroke="none"/>
<path d="M346,1017 L352.5,1017 M345,1021 L354,1021 M347,1013 L351.5,1013" stroke="#111" stroke-width="0.8"/>
<text x="305.5" y="1023.6" font-size="15" style="fill:#fff;stroke:#fff;stroke-width:0.5px" letter-spacing="1.3">HE9</text>
<text x="357.5" y="1023.6" font-size="15" style="fill:#fff;stroke:#fff;stroke-width:0.5px" letter-spacing="0.8">HDH</text>
<rect x="320.7" y="1027.4" width="57.9" height="3.3" fill="#a9d6ee" stroke="none"/>
<path d="M322,1029H377" stroke="#5a8fb0" stroke-width="0.8" stroke-dasharray="2,0.6"/>

</g>
</svg>
</body></html>
